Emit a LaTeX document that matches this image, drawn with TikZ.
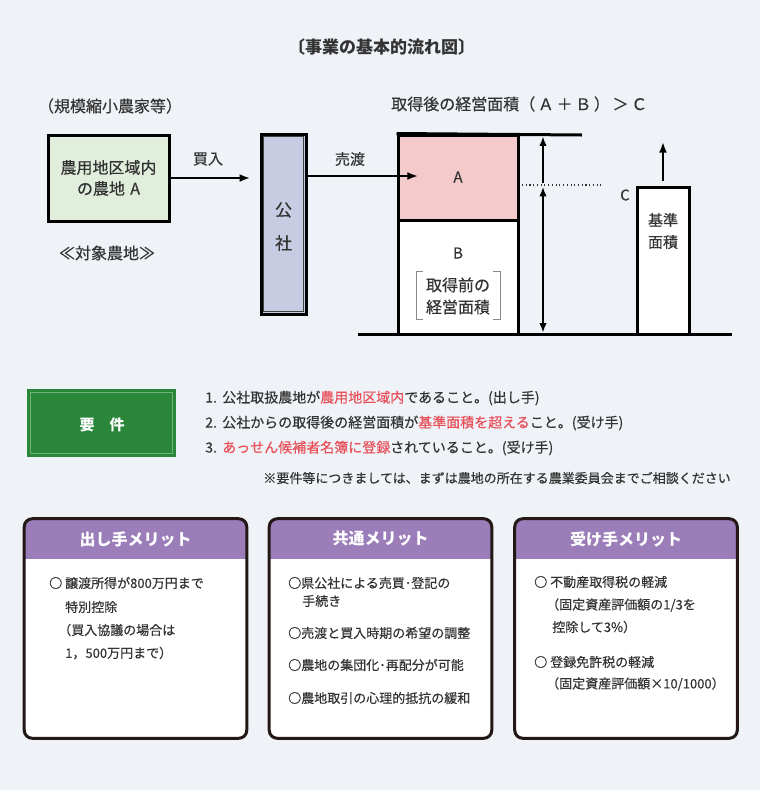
\documentclass[tikz,border=0pt]{standalone}
\usepackage{fontspec}
\setmainfont{Noto Sans CJK JP}[UprightFeatures={FakeBold=0.4}]
\usetikzlibrary{arrows.meta,calc}
\newcommand\fpx[1]{\fontsize{\dimexpr #1pt*3/4\relax}{\dimexpr #1pt*9/10\relax}\selectfont}
\definecolor{bg}{HTML}{EFF3F7}
\definecolor{txt}{HTML}{333333}
\definecolor{hl}{HTML}{E8505A}
\definecolor{greenA}{HTML}{E2EEDC}
\definecolor{lav}{HTML}{C8CCE3}
\definecolor{pinkA}{HTML}{F5CACB}
\definecolor{reqg}{HTML}{2A873A}
\definecolor{reqgl}{HTML}{6DB37A}
\definecolor{purp}{HTML}{9B7DBA}
\definecolor{frame}{HTML}{231815}
\definecolor{brk}{HTML}{8A8A8A}
\newcommand\panelhead[1]{%
  \begin{scope}
    \clip[rounded corners=6pt] (#1.north west) rectangle (#1.south east);
    \fill[purp] (#1.north west) rectangle ($(#1.north east)+(0,40)$);
  \end{scope}
  \draw[frame,line width=2.25pt,rounded corners=6pt] (#1.north west) rectangle (#1.south east);}
\begin{document}
\begin{tikzpicture}[x=0.75pt,y=-0.75pt,
  t/.style={inner sep=0pt,text=txt},
  arr/.style={line width=1.5pt,-{Latex[length=8pt,width=6pt]}},
  darr/.style={line width=1.2pt,{Latex[length=7pt,width=5.5pt]}-{Latex[length=7pt,width=5.5pt]}},
  thickline/.style={line width=2.25pt},
  panel/.style={fill=white,rounded corners=6pt,minimum width=166.5pt,minimum height=164.25pt,inner sep=0pt},
  ptitle/.style={inner sep=0pt,text=white,font=\fpx{16}\bfseries},
  ptext/.style={inner sep=0pt,text=txt,font=\fpx{13},anchor=west},
  rtext/.style={inner sep=0pt,text=txt,font=\fpx{14},anchor=west},
]
\fill[bg] (0,0) rectangle (760,790);

% title
\node[t,font=\fpx{17}\bfseries] (title) at (381.5,47) {〔事業の基本的流れ図〕};

% left part
\node[t,font=\fpx{16}] (farmer) at (110,106) {（規模縮小農家等）};
\node[draw=black,thickline,fill=greenA,minimum width=90.75pt,minimum height=64.5pt,inner sep=0pt,
      align=center,text=txt,font=\fontsize{12pt}{15.75pt}\selectfont] (boxA) at (108.5,178) {農用地区域内\\の農地\hspace{4pt}A};
\node[t,font=\fpx{16}] (target) at (107,253) {≪対象農地≫};

% kosha
\node[draw=black,line width=2.25pt,fill=lav,minimum width=33.75pt,minimum height=135pt,inner sep=0pt] (kosha) at (283.5,224) {};
\draw[line width=0.6pt,black!75] ($(kosha.north west)+(4,4)$) rectangle ($(kosha.south east)+(-4,-4)$);
\node[t,font=\fpx{17}] (kou) at (283.5,210) {公};
\node[t,font=\fpx{17}] (sha) at (283.5,243) {社};

\draw[arr,shorten >=7pt] (boxA.east) -- (boxA.east -| kosha.west);
\node[t,font=\fpx{15}] (buy) at (208,159) {買入};

% stack A/B
\node[draw=black,thickline,fill=white,minimum width=90pt,minimum height=85.5pt,inner sep=0pt] (areaB) at (458,277) {};
\node[draw=black,thickline,fill=pinkA,minimum width=90pt,minimum height=63.75pt,inner sep=0pt] (areaA) at (458,177.5) {};
\coordinate (sellend) at (418,176);
\draw[arr] (kosha.east |- sellend) -- (sellend);
\node[t,font=\fpx{15}] (sell) at (350,159) {売渡};
\node[t,font=\fpx{15}] (labA) at (458,177) {A};
\node[t,font=\fpx{15}] (labB) at (458,253) {B};
\node[t,align=center,font=\fontsize{12pt}{16.5pt}\selectfont] (labB2) at (458,296) {取得前の\\経営面積};
\draw[line width=0.6pt,brk] (423,271) -- (416,271) -- (416,319) -- (423,319);
\draw[line width=0.6pt,brk] (493,271) -- (500,271) -- (500,319) -- (493,319);

\coordinate (topend) at (582,135);
\draw[thickline] (areaA.north west) -- (topend);
\coordinate (base1) at (358,334);
\coordinate (base2) at (732,334);
\draw[thickline] (base1) -- (base2);

\node[t,font=\fpx{16},anchor=west] (hdr) at (391,104) {取得後の経営面積（\,Ａ\,＋\,Ｂ\,）\,＞\,Ｃ};

% measuring arrows
\coordinate (v1) at (543,136.5);
\coordinate (v2) at (543,183);
\coordinate (v3) at (543,187);
\coordinate (v4) at (543,332.5);
\draw[line width=1.2pt,-{Latex[length=7pt,width=5.5pt]}] (v2) -- (v1);
\draw[darr] (v3) -- (v4);
\coordinate (d1) at (522,185);
\coordinate (d2) at (603,185);
\draw[dotted,line width=0.8pt,txt] (d1) -- (d2);

% C
\node[draw=black,thickline,fill=white,minimum width=39pt,minimum height=110.25pt,inner sep=0pt] (cbox) at (663,260.5) {};
\node[t,align=center,font=\fontsize{11.25pt}{16.5pt}\selectfont] (clab) at (663,231) {基準\\面積};
\node[t,font=\fpx{15}] (cname) at (625,195) {C};
\coordinate (cup) at (663,142);
\draw[arr] ($(cbox.north)+(0,-5)$) -- (cup);

% requirements
\node[fill=reqg,minimum width=111.75pt,minimum height=51pt,inner sep=0pt] (req) at (101.5,423) {};
\draw[reqgl,line width=0.6pt] ($(req.north west)+(4,4)$) rectangle ($(req.south east)+(-4,-4)$);
\node[inner sep=0pt,text=white,font=\fpx{15}\bfseries] (reqt) at (102,425) {要　件};

\node[rtext] (r1) at (205,398) {1.\hspace{4pt}公社取扱農地が\textcolor{hl}{農用地区域内}であること。(出し手)};
\node[rtext] (r2) at (205,423) {2.\hspace{4pt}公社からの取得後の経営面積が\textcolor{hl}{基準面積を超える}こと。(受け手)};
\node[rtext] (r3) at (205,448) {3.\hspace{4pt}\textcolor{hl}{あっせん候補者名簿に登録}されていること。(受け手)};
\node[t,anchor=east,font=\fpx{13}] (note) at (731,478) {※要件等につきましては、まずは農地の所在する農業委員会までご相談ください};

% panels
\node[panel] (p1) at (135.5,628.5) {};
\node[panel] (p2) at (380.5,628.5) {};
\node[panel] (p3) at (626,628.5) {};
\panelhead{p1}
\panelhead{p2}
\panelhead{p3}
\node[ptitle] (h1) at (135.5,539) {出し手メリット};
\node[ptitle] (h2) at (380.5,539) {共通メリット};
\node[ptitle] (h3) at (626,539) {受け手メリット};

\node[ptext] (a1) at (49,583) {○ 譲渡所得が800万円まで};
\node[ptext] (a2) at (65,607) {特別控除};
\node[ptext] (a3) at (58,630) {（買入協議の場合は};
\node[ptext] (a4) at (65,653) {1，500万円まで）};

\node[ptext] (b1) at (288,583) {○県公社による売買･登記の};
\node[ptext] (b2) at (302,601) {手続き};
\node[ptext] (b3) at (288,633) {○売渡と買入時期の希望の調整};
\node[ptext] (b4) at (288,665) {○農地の集団化･再配分が可能};
\node[ptext] (b5) at (288,698) {○農地取引の心理的抵抗の緩和};

\node[ptext] (c1) at (534,582) {○ 不動産取得税の軽減};
\node[ptext] (c2) at (546,605) {（固定資産評価額の1/3を};
\node[ptext] (c3) at (552,627) {控除して3\%）};
\node[ptext] (c4) at (534,662) {○ 登録免許税の軽減};
\node[ptext] (c5) at (546,684) {（固定資産評価額×10/1000）};
\end{tikzpicture}
\end{document}
